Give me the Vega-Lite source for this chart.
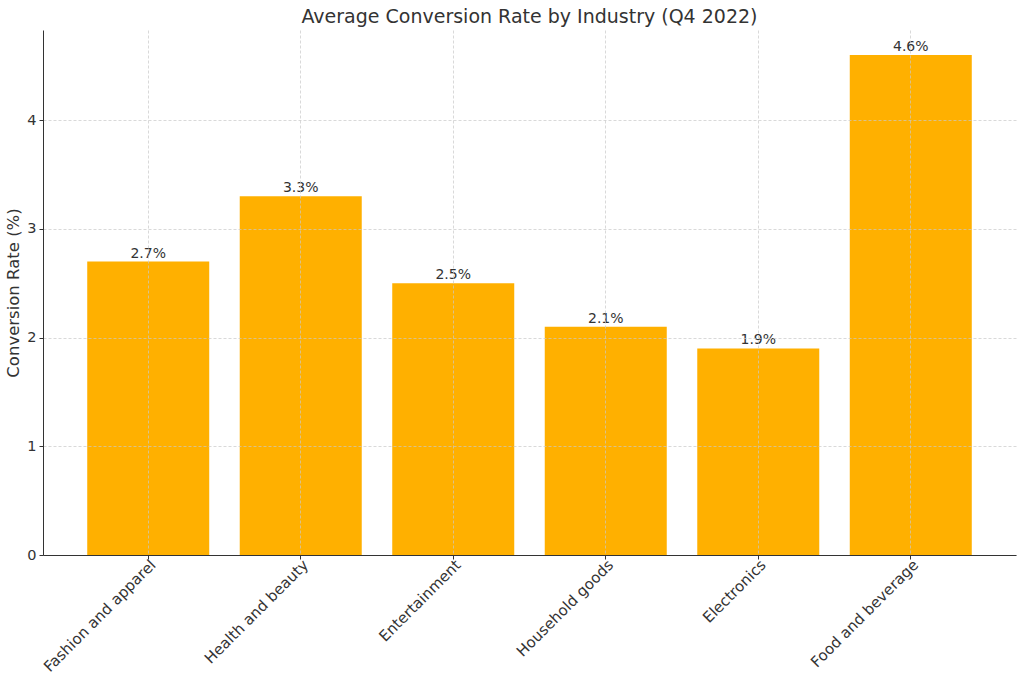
{
  "$schema": "https://vega.github.io/schema/vega-lite/v6.json",
  "width": 973,
  "height": 525,
  "autosize": {"type": "none"},
  "padding": {"left": 43, "top": 30, "right": 8, "bottom": 125},
  "background": "white",
  "config": {
    "font": "DejaVu Sans",
    "view": {"stroke": null},
    "axis": {
      "domainColor": "#333333",
      "tickColor": "#333333",
      "labelColor": "#333333",
      "titleColor": "#333333",
      "labelFont": "DejaVu Sans",
      "titleFont": "DejaVu Sans",
      "gridColor": "#c8c8c8",
      "gridDash": [3, 2],
      "gridWidth": 0.7,
      "tickSize": 4
    }
  },
  "title": {
    "text": "Average Conversion Rate by Industry (Q4 2022)",
    "fontSize": 19,
    "fontWeight": "normal",
    "color": "#333333",
    "anchor": "middle",
    "offset": 3,
    "font": "DejaVu Sans"
  },
  "data": {
    "values": [
      {"industry": "Fashion and apparel", "rate": 2.7},
      {"industry": "Health and beauty", "rate": 3.3},
      {"industry": "Entertainment", "rate": 2.5},
      {"industry": "Household goods", "rate": 2.1},
      {"industry": "Electronics", "rate": 1.9},
      {"industry": "Food and beverage", "rate": 4.6}
    ]
  },
  "transform": [
    {"calculate": "format(datum.rate, '.1f') + '%'", "as": "label"}
  ],
  "encoding": {
    "x": {
      "field": "industry",
      "type": "nominal",
      "sort": null,
      "scale": {"paddingInner": 0.2, "paddingOuter": 0.29},
      "axis": {
        "title": null,
        "labelAngle": -45,
        "labelAlign": "right",
        "labelBaseline": "top",
        "labelFontSize": 15,
        "labelPadding": -2,
        "labelDx": -5,
        "grid": true,
        "bandPosition": 0.5,
        "zindex": 1
      }
    },
    "y": {
      "field": "rate",
      "type": "quantitative",
      "scale": {"domain": [0, 4.83], "nice": false, "zero": true},
      "axis": {
        "title": "Conversion Rate (%)",
        "titleFontSize": 16.5,
        "titleFontWeight": "normal",
        "titlePadding": 5,
        "labelFontSize": 14.5,
        "labelPadding": 3,
        "values": [0, 1, 2, 3, 4],
        "grid": true,
        "zindex": 1
      }
    }
  },
  "layer": [
    {"mark": {"type": "bar", "color": "#FFB000"}},
    {
      "mark": {"type": "text", "baseline": "bottom", "dy": -1, "fontSize": 14, "color": "#333333"},
      "encoding": {"text": {"field": "label"}}
    }
  ]
}
